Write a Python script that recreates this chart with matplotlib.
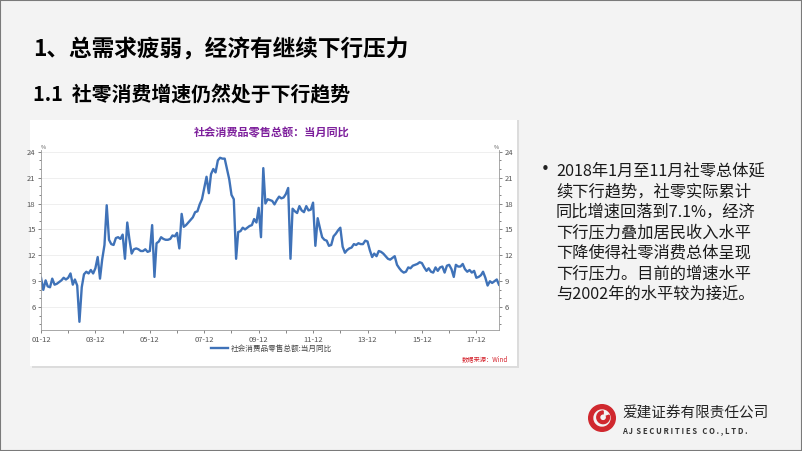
import matplotlib
matplotlib.use("Agg")
import matplotlib.pyplot as plt
import matplotlib.dates as mdates
from matplotlib.patches import Rectangle, Wedge
from matplotlib.ticker import MultipleLocator
import pandas as pd

plt.rcParams['font.family'] = ['Noto Sans CJK SC', 'DejaVu Sans']

# monthly YoY (%), 2001-12 .. 2018-10
v2001 = [9.4]
v2002 = [8.0, 9.1, 8.4, 8.3, 9.3, 8.6, 8.7, 8.9, 9.1, 9.4, 9.2, 9.4]
v2003 = [9.9, 8.6, 9.2, 8.5, 4.3, 8.3, 9.8, 10.1, 9.9, 10.3, 9.9, 10.5]
v2004 = [11.8, 9.3, 11.5, 13.2, 17.8, 13.8, 13.3, 13.2, 14.0, 14.1, 13.9, 14.4]
v2005 = [11.6, 15.8, 13.9, 12.2, 12.7, 12.8, 12.7, 12.5, 12.5, 12.7, 12.4, 12.5]
v2006 = [15.5, 9.5, 13.4, 13.6, 14.1, 13.9, 13.8, 13.8, 13.9, 14.3, 14.2, 14.6]
v2007 = [12.8, 16.8, 15.3, 15.5, 15.8, 16.1, 16.4, 17.0, 17.1, 17.9, 18.5, 19.8]
v2008 = [21.1, 19.2, 21.4, 22.0, 21.6, 23.0, 23.3, 23.2, 23.2, 22.0, 20.8, 19.0]
v2009 = [18.5, 11.6, 14.7, 14.8, 15.2, 15.0, 15.2, 15.4, 15.5, 16.2, 15.8, 17.5]
v2010 = [14.1, 22.1, 18.0, 18.5, 18.4, 18.3, 17.9, 18.4, 18.8, 18.6, 18.7, 19.1]
v2011 = [19.8, 11.6, 17.4, 17.1, 16.9, 17.7, 17.2, 17.0, 17.7, 17.2, 17.3, 18.1]
v2012 = [13.1, 16.3, 15.2, 14.1, 13.8, 13.7, 13.1, 13.2, 14.2, 14.5, 14.9, 15.2]
v2013 = [13.0, 12.3, 12.6, 12.8, 12.9, 13.3, 13.2, 13.4, 13.3, 13.3, 13.7, 13.6]
v2014 = [12.6, 11.8, 12.2, 11.9, 12.5, 12.4, 12.2, 11.9, 11.6, 11.5, 11.7, 11.9]
v2015 = [10.9, 10.5, 10.2, 10.0, 10.1, 10.6, 10.5, 10.8, 10.9, 11.0, 11.2, 11.1]
v2016 = [10.6, 10.2, 10.5, 10.1, 10.0, 10.6, 10.2, 10.6, 10.7, 10.0, 10.8, 10.9]
v2017 = [10.4, 9.5, 10.9, 10.7, 10.7, 11.0, 10.4, 10.1, 10.3, 10.0, 10.2, 9.4]
v2018 = [9.5, 9.7, 10.1, 9.4, 8.5, 9.0, 8.8, 9.0, 9.2, 8.6]

values = (v2001 + v2002 + v2003 + v2004 + v2005 + v2006 + v2007 + v2008 + v2009
          + v2010 + v2011 + v2012 + v2013 + v2014 + v2015 + v2016 + v2017 + v2018)
dates = pd.date_range("2001-12-01", periods=len(values), freq="MS")

y_ticks = [6, 9, 12, 15, 18, 21, 24]
label_years = [2001, 2003, 2005, 2007, 2009, 2011, 2013, 2015, 2017]
minor_years = [2002, 2004, 2006, 2008, 2010, 2012, 2014, 2016]

title = "1、总需求疲弱，经济有继续下行压力"
subtitle = "1.1  社零消费增速仍然处于下行趋势"
chart_title = "社会消费品零售总额：当月同比"
series_name = "社会消费品零售总额:当月同比"
bullet_lines = ["2018年1月至11月社零总体延",
                "续下行趋势，社零实际累计",
                "同比增速回落到7.1%，经济",
                "下行压力叠加居民收入水平",
                "下降使得社零消费总体呈现",
                "下行压力。目前的增速水平",
                "与2002年的水平较为接近。"]

W, H = 802, 451
fig = plt.figure(figsize=(W / 100, H / 100), dpi=100, facecolor="#f3f3f3")

def fx(px):
    return px / W

def fy(py):
    return 1 - py / H

# slide frame
fig.patches.append(Rectangle((0, 0), 1, 1, transform=fig.transFigure, fill=False,
                             edgecolor="#7a7a7a", linewidth=1.5, zorder=5))

fig.text(fx(33), fy(50), title, fontsize=16.3, fontweight="bold", va="center", ha="left")
fig.text(fx(33), fy(95), subtitle, fontsize=14.3, fontweight="bold", va="center", ha="left")

# chart card
fig.patches.append(Rectangle((fx(32), fy(368)), fx(487), 248 / H, transform=fig.transFigure,
                             facecolor="#dcdcdc", edgecolor="none", zorder=-3))
fig.patches.append(Rectangle((fx(30), fy(366)), fx(487), 246 / H, transform=fig.transFigure,
                             facecolor="white", edgecolor="none", zorder=-2))
fig.text(fx(272), fy(133), chart_title, fontsize=8, fontweight="bold", color="#7d1f9c",
         ha="center", va="center")

ax = fig.add_axes([fx(41), fy(330), fx(499) - fx(41), (330 - 150) / H], zorder=2)
ax.set_facecolor("white")
line, = ax.plot(dates, values, color="#3f72b8", linewidth=1.7)

ax.set_xlim(dates[0], dates[-1])
ax.set_ylim(3.35, 24.2)
ax.set_yticks(y_ticks)
ax.yaxis.set_minor_locator(MultipleLocator(1))
ax.grid(axis="y", color="#ececec", linewidth=0.6)
ax.set_axisbelow(True)

ax.set_xticks([pd.Timestamp(f"{y}-12-01") for y in label_years])
ax.set_xticks([pd.Timestamp(f"{y}-12-01") for y in minor_years], minor=True)
ax.xaxis.set_major_formatter(mdates.DateFormatter("%y-%m"))

for side in ["left", "right", "bottom"]:
    ax.spines[side].set_color("#9a9a9a")
    ax.spines[side].set_linewidth(0.6)
ax.spines["top"].set_visible(False)
ax.tick_params(axis="y", which="both", left=True, right=True, labelright=True,
               labelsize=5.5, colors="#555555", length=2.5, width=0.5, pad=1.5)
ax.tick_params(axis="y", which="minor", length=1.5)
ax.tick_params(axis="x", which="both", labelsize=5.5, colors="#555555", length=2.5,
               width=0.5, pad=2)
ax.text(0.0, 1.0, "%", transform=ax.transAxes, fontsize=4, color="#555555",
        ha="left", va="bottom")
ax.text(1.0, 1.0, "%", transform=ax.transAxes, fontsize=4, color="#555555",
        ha="right", va="bottom")

fig.legend([line], [series_name], loc="center", bbox_to_anchor=(fx(272), fy(349)),
           frameon=False, fontsize=5.5, handlelength=2.2, handletextpad=0.4,
           labelcolor="#444444")
fig.text(fx(485), fy(359), "数据来源：Wind", fontsize=4.5, color="#d4202a",
         style="italic", ha="center", va="center")

# right-hand commentary
fig.text(fx(535), fy(170), "•", fontsize=15, ha="left", va="center", color="#222222")
for i, txt in enumerate(bullet_lines):
    fig.text(fx(556), fy(171 + i * 20.5), txt, fontsize=11.7, ha="left", va="center",
             color="#1a1a1a")

# logo
logo_ax = fig.add_axes([fx(588), fy(432), fx(28), 28 / H])
logo_ax.set_xlim(-1, 1)
logo_ax.set_ylim(-1, 1)
logo_ax.set_aspect("equal")
logo_ax.axis("off")
logo_ax.add_patch(Wedge((0, 0), 0.95, 0, 360, width=0.28, color="#d0282e"))
logo_ax.add_patch(Wedge((0.08, 0.05), 0.45, 90, 380, width=0.2, color="#d0282e"))
fig.text(fx(622), fy(413), "爱建证券有限责任公司", fontsize=10.5, ha="left", va="center",
         color="#222222")
fig.text(fx(622), fy(431), "A J  S E C U R I T I E S   C O . , L T D .", fontsize=5.5,
         fontweight="bold", ha="left", va="center", color="#333333")

fig.savefig("out.png", dpi=100, facecolor=fig.get_facecolor())
